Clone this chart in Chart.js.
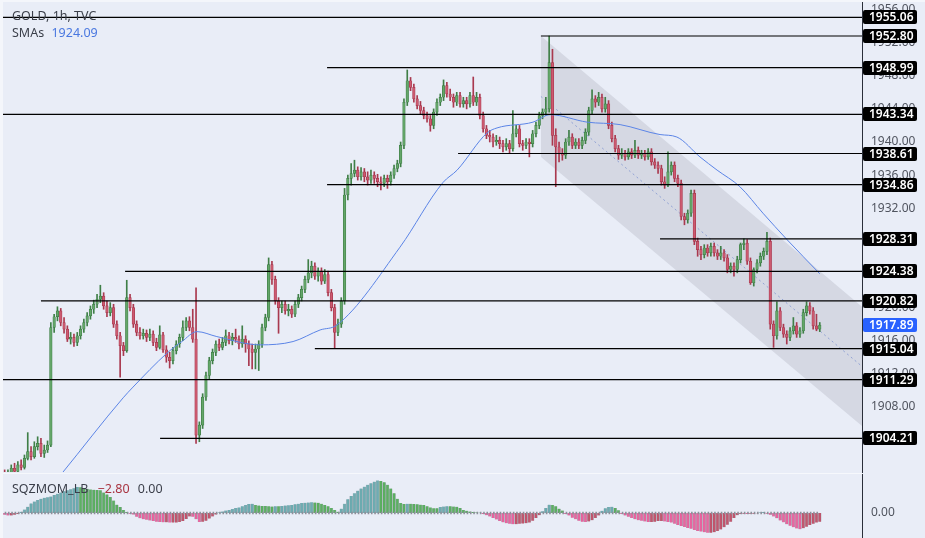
<!DOCTYPE html>
<html lang="en">
<head>
<meta charset="UTF-8">
<title>GOLD, 1h, TVC</title>
<script src="https://cdn.jsdelivr.net/npm/chart.js@4.4.1/dist/chart.umd.min.js"></script>
<style>
  body { margin: 0; width: 925px; height: 538px; background: #f4f6fb; position: relative; overflow: hidden; font-family: "Noto Sans", sans-serif; }
  #bg { position: absolute; left: 3px; top: 2px; right: 0; bottom: 0; background: #e9edf7; }
  #main { position: absolute; left: 0; top: 0; }
  #osc { position: absolute; left: 0; top: 473px; }
  #sep { position: absolute; left: 3px; top: 473px; width: 859px; height: 1px; background: #f6f8fc; }
  .legend { position: absolute; left: 12px; font-size: 12.5px; color: #3b3f4a; white-space: nowrap; line-height: 15px; }
</style>
</head>
<body>
<div id="bg"></div>
<canvas id="main" width="925" height="473"></canvas>
<div id="sep"></div>
<canvas id="osc" width="925" height="65"></canvas>

<div class="legend" style="top:8px">GOLD, 1h, TVC</div>
<div class="legend" style="top:25px">SMAs <span style="color:#4a78e0;margin-left:4px">1924.09</span></div>
<div class="legend" style="top:481px">SQZMOM_LB <span style="color:#a8323f;margin-left:6px">−2.80</span> <span style="margin-left:5px">0.00</span></div>

<script>
// ---- data (1h candles, oldest first) ----
const firstOpen = 1899.9;
const closes = [
  1899.6, 1900.0, 1900.6, 1900.2, 1901.0, 1900.7, 1901.8, 1902.6, 1902.0, 1903.2,
  1903.6, 1902.4, 1902.8, 1903.4, 1917.6, 1918.9, 1919.6, 1918.2, 1917.4, 1916.2,
  1916.4, 1915.8, 1916.6, 1917.4, 1918.2, 1919.0, 1919.8, 1920.4, 1921.0, 1921.4,
  1920.2, 1919.4, 1920.0, 1918.0, 1916.6, 1915.4, 1914.8, 1921.2, 1920.0, 1918.0,
  1917.0, 1916.6, 1916.9, 1916.4, 1916.8, 1915.8, 1915.2, 1916.7, 1914.9, 1914.0,
  1913.6, 1914.8, 1915.6, 1916.4, 1917.6, 1918.4, 1917.6, 1916.2, 1904.6, 1905.8,
  1909.2, 1911.8, 1913.6, 1914.6, 1915.6, 1915.2, 1915.8, 1916.6, 1916.0, 1916.4,
  1916.2, 1915.6, 1916.2, 1915.6, 1915.0, 1914.6, 1915.0, 1915.6, 1917.6, 1918.8,
  1925.2, 1923.4, 1920.8, 1920.0, 1920.4, 1919.6, 1919.8, 1919.2, 1920.4, 1921.2,
  1922.2, 1923.4, 1924.2, 1925.0, 1923.8, 1924.4, 1923.2, 1924.0, 1921.8, 1920.0,
  1917.0, 1918.0, 1920.8, 1933.6, 1935.6, 1936.2, 1936.6, 1935.8, 1936.4, 1935.8,
  1935.4, 1936.0, 1935.6, 1935.2, 1935.0, 1935.6, 1935.2, 1936.0, 1936.8, 1937.4,
  1939.6, 1944.8, 1947.4, 1946.6, 1945.2, 1944.4, 1943.8, 1943.2, 1942.8, 1942.0,
  1943.6, 1944.8, 1945.4, 1946.8, 1945.8, 1945.4, 1944.8, 1945.6, 1944.6, 1945.0,
  1944.6, 1945.6, 1944.8, 1945.4, 1943.2, 1941.6, 1940.8, 1940.6, 1940.0, 1940.2,
  1939.8, 1939.4, 1939.8, 1939.2, 1941.0, 1941.6, 1939.8, 1939.6, 1940.0, 1939.8,
  1941.0, 1942.0, 1943.2, 1943.6, 1944.0, 1949.6, 1940.8, 1939.4, 1938.6, 1938.4,
  1940.0, 1940.6, 1939.6, 1940.0, 1939.6, 1940.2, 1941.2, 1943.8, 1945.2, 1944.8,
  1945.4, 1944.0, 1944.6, 1942.0, 1940.4, 1939.2, 1938.4, 1938.6, 1938.2, 1938.8,
  1938.4, 1939.0, 1938.4, 1938.6, 1938.2, 1938.8, 1937.6, 1937.2, 1936.8, 1935.2,
  1934.8, 1936.4, 1937.2, 1935.6, 1935.0, 1931.0, 1930.6, 1931.4, 1933.8, 1928.0,
  1927.0, 1926.4, 1927.2, 1926.6, 1927.4, 1926.6, 1926.2, 1926.6, 1926.0, 1924.6,
  1925.0, 1924.6, 1925.8, 1927.6, 1927.8, 1925.6, 1923.0, 1924.6, 1925.4, 1926.2,
  1926.8, 1928.0, 1918.0, 1916.6, 1919.6, 1917.6, 1916.8, 1916.4, 1917.2, 1917.8,
  1916.8, 1917.2, 1919.4, 1920.2, 1919.6, 1917.8, 1917.4, 1917.89
];
const highs = [
  1900.4, 1900.4, 1901.0, 1901.2, 1901.4, 1901.6, 1902.2, 1904.9, 1903.2, 1903.8,
  1904.4, 1904.2, 1903.4, 1903.9, 1918.2, 1919.2, 1920.1, 1919.9, 1918.8, 1917.8,
  1917.0, 1916.8, 1917.0, 1917.8, 1918.6, 1919.4, 1920.2, 1920.9, 1921.6, 1922.7,
  1921.8, 1920.8, 1920.6, 1920.4, 1918.4, 1917.0, 1915.8, 1923.3, 1921.6, 1920.4,
  1918.4, 1917.6, 1917.4, 1917.3, 1917.4, 1917.2, 1916.3, 1917.8, 1917.0, 1915.4,
  1914.6, 1915.2, 1916.0, 1916.8, 1918.4, 1918.8, 1918.9, 1919.8, 1922.4, 1906.2,
  1909.6, 1912.2, 1914.0, 1915.0, 1916.0, 1916.2, 1916.4, 1917.3, 1917.0, 1916.9,
  1917.4, 1916.6, 1917.8, 1916.6, 1916.0, 1915.6, 1915.6, 1916.0, 1918.0, 1919.2,
  1926.0, 1925.6, 1923.8, 1921.2, 1920.8, 1920.8, 1920.4, 1920.2, 1920.8, 1921.6,
  1922.6, 1923.8, 1925.8, 1925.6, 1925.4, 1924.8, 1924.8, 1924.6, 1924.4, 1922.2,
  1920.4, 1918.6, 1921.2, 1934.4, 1936.0, 1937.4, 1937.8, 1937.0, 1936.9, 1936.8,
  1936.4, 1936.6, 1936.4, 1936.1, 1935.8, 1936.0, 1936.0, 1936.4, 1937.2, 1937.8,
  1940.0, 1945.2, 1948.7, 1947.8, 1947.0, 1945.6, 1944.9, 1944.2, 1943.6, 1943.2,
  1944.0, 1945.2, 1945.8, 1947.5, 1947.2, 1946.4, 1945.8, 1946.0, 1946.0, 1945.4,
  1945.4, 1946.0, 1947.85, 1946.0, 1945.8, 1943.6, 1942.0, 1941.4, 1941.0, 1940.8,
  1940.6, 1940.2, 1940.4, 1940.2, 1943.8, 1942.0, 1942.0, 1940.2, 1940.4, 1940.4,
  1941.4, 1942.4, 1943.6, 1944.0, 1945.4, 1952.8, 1951.2, 1941.6, 1940.0, 1939.2,
  1940.4, 1941.4, 1941.0, 1940.4, 1940.4, 1940.6, 1941.6, 1944.2, 1946.3, 1945.6,
  1946.0, 1945.8, 1945.4, 1945.0, 1942.4, 1940.8, 1939.6, 1939.2, 1939.0, 1939.2,
  1939.2, 1940.2, 1939.4, 1939.0, 1939.0, 1939.2, 1939.2, 1938.0, 1937.6, 1937.2,
  1935.8, 1938.8, 1937.6, 1937.6, 1936.0, 1935.4, 1931.4, 1931.8, 1934.2, 1934.2,
  1928.4, 1927.4, 1927.6, 1927.6, 1927.8, 1927.8, 1927.0, 1927.4, 1927.0, 1926.4,
  1925.4, 1925.4, 1926.2, 1927.8, 1928.3, 1928.2, 1926.0, 1924.8, 1925.8, 1926.6,
  1927.2, 1929.1, 1928.4, 1918.4, 1920.7, 1920.0, 1918.0, 1917.2, 1917.6, 1918.8,
  1918.2, 1917.6, 1919.8, 1920.7, 1920.6, 1920.0, 1919.2, 1918.2
];
const lows = [
  1899.2, 1899.3, 1899.8, 1899.9, 1900.0, 1900.4, 1900.5, 1901.6, 1901.6, 1901.8,
  1902.8, 1902.0, 1901.9, 1902.5, 1903.2, 1917.0, 1918.4, 1917.8, 1916.9, 1915.9,
  1915.6, 1915.3, 1915.4, 1916.2, 1917.0, 1917.8, 1918.6, 1919.3, 1920.0, 1920.6,
  1919.8, 1918.9, 1919.0, 1917.6, 1916.2, 1911.6, 1914.2, 1914.6, 1919.6, 1917.6,
  1916.6, 1916.2, 1916.2, 1915.9, 1916.0, 1915.4, 1914.8, 1915.0, 1914.6, 1913.4,
  1912.7, 1913.2, 1914.4, 1915.2, 1916.0, 1917.2, 1917.2, 1915.8, 1903.6, 1903.8,
  1905.4, 1908.8, 1911.4, 1913.2, 1914.2, 1914.8, 1914.9, 1915.4, 1915.6, 1915.5,
  1915.8, 1915.0, 1915.2, 1914.6, 1913.0, 1912.6, 1912.6, 1912.4, 1915.2, 1917.2,
  1918.4, 1922.8, 1920.4, 1916.9, 1919.4, 1919.2, 1919.0, 1918.8, 1918.9, 1920.0,
  1920.8, 1921.8, 1923.0, 1923.6, 1923.4, 1923.2, 1922.8, 1922.9, 1921.4, 1919.6,
  1915.1, 1916.6, 1917.6, 1920.4, 1933.0, 1934.8, 1935.8, 1935.4, 1935.4, 1935.2,
  1934.8, 1935.0, 1935.0, 1934.6, 1934.2, 1934.6, 1934.4, 1934.8, 1935.6, 1936.4,
  1937.0, 1939.2, 1944.4, 1946.2, 1944.8, 1944.0, 1943.4, 1942.8, 1942.4, 1941.3,
  1941.6, 1943.2, 1944.4, 1945.0, 1945.4, 1945.0, 1944.2, 1944.4, 1944.2, 1944.2,
  1944.0, 1944.2, 1944.4, 1944.4, 1942.8, 1941.2, 1940.4, 1940.0, 1939.4, 1939.6,
  1939.2, 1938.8, 1939.0, 1938.6, 1938.9, 1940.6, 1939.4, 1939.0, 1939.2, 1938.2,
  1939.4, 1940.6, 1941.6, 1942.8, 1943.2, 1943.6, 1939.6, 1934.6, 1937.6, 1937.8,
  1938.0, 1939.6, 1939.2, 1939.2, 1939.2, 1939.2, 1939.8, 1940.8, 1943.4, 1944.2,
  1944.4, 1943.6, 1943.6, 1941.6, 1940.0, 1938.8, 1937.9, 1938.0, 1937.8, 1937.9,
  1938.0, 1938.1, 1938.0, 1938.0, 1937.8, 1937.9, 1937.2, 1936.8, 1936.2, 1934.8,
  1934.4, 1934.6, 1936.0, 1935.2, 1934.6, 1930.6, 1930.0, 1930.2, 1931.0, 1927.6,
  1926.2, 1925.8, 1926.0, 1926.2, 1926.2, 1926.2, 1925.8, 1925.8, 1925.6, 1924.2,
  1924.2, 1923.8, 1924.2, 1925.4, 1927.0, 1925.2, 1922.8, 1922.6, 1924.2, 1925.0,
  1925.8, 1926.4, 1917.4, 1915.2, 1916.2, 1917.2, 1916.4, 1915.6, 1916.0, 1916.8,
  1916.4, 1916.4, 1916.9, 1919.0, 1919.2, 1917.4, 1917.2, 1917.1
];
// opens: each bar opens where the previous one closed
const opens = [firstOpen].concat(closes.slice(0, -1));

// SMA read at a few points along the blue curve (bar index, value)
const smaIdx  = [9.5, 17.4, 35.9, 38.9, 49.2, 53.7, 58.3, 64.3, 77.4, 87.4, 95.6, 100.7, 119.8, 132.8, 137.1,
                 146.2, 149.2, 160.1, 165.3, 176.5, 186.5, 198.6, 203.7, 210.7, 215.9, 222.8, 229.8, 237.1, 247];
const smaVals = [1896.2, 1900.0, 1909.1, 1910.4, 1914.5, 1915.9, 1917.1, 1916.5, 1915.5, 1915.9, 1917.3, 1917.9, 1927.3, 1935.1, 1936.6,
                 1941.1, 1941.7, 1942.4, 1943.3, 1942.4, 1942.1, 1940.9, 1940.6, 1938.2, 1936.6, 1934.6, 1931.4, 1928.2, 1924.09];

// horizontal levels and the bar index where each drawing starts
const levelPrices = [1955.06, 1952.80, 1948.99, 1943.34, 1938.61, 1934.86, 1928.31, 1924.38, 1920.82, 1915.04, 1911.29, 1904.21];
const levelStarts = [-0.5, 162.5, 97.7, -0.5, 137.4, 97.7, 198.6, 36.5, 11.0, 94.0, -0.5, 47.1];

// descending channel (start / end bar index)
const channelIdx   = [162.5, 259.8];
const channelUpper = [1952.8, 1920.1];
const channelMid   = [1945.5, 1912.9];
const channelLower = [1938.2, 1905.7];

// squeeze momentum histogram
const momentum = [
  -0.6, -0.8, -0.8, -0.6, -0.3, 0.4, 1.1, 2.0, 3.1, 3.7,
  4.2, 4.6, 4.9, 5.1, 5.3, 5.8, 6.2, 6.6, 7.0, 7.3,
  7.7, 8.0, 8.4, 8.3, 8.0, 7.8, 7.6, 7.5, 7.4, 7.3,
  6.6, 6.0, 5.2, 4.0, 2.7, 1.9, 1.0, 0.3, -0.2, -0.5,
  -1.2, -1.7, -2.0, -2.2, -2.4, -2.6, -2.8, -2.9, -3.0, -3.0,
  -3.1, -3.1, -3.1, -2.9, -2.6, -1.9, -1.1, -1.2, -2.0, -2.9,
  -2.8, -2.5, -1.8, -1.1, -0.5, 0.2, 0.5, 0.8, 1.0, 1.3,
  1.6, 1.8, 2.2, 2.6, 2.9, 3.0, 2.6, 2.4, 2.3, 2.3,
  2.2, 2.1, 2.2, 2.2, 2.3, 2.4, 2.5, 2.6, 2.8, 3.0,
  3.2, 3.3, 3.4, 3.5, 3.4, 3.3, 3.0, 2.6, 2.2, 1.6,
  1.0, 0.4, 1.4, 3.0, 4.4, 5.5, 6.4, 7.2, 7.9, 8.5,
  9.1, 9.6, 10.1, 10.5, 10.3, 9.9, 9.1, 7.9, 6.4, 4.6,
  3.2, 2.9, 3.0, 3.0, 2.9, 2.8, 2.7, 2.6, 2.2, 1.8,
  1.5, 1.5, 1.9, 2.1, 2.2, 2.2, 2.1, 2.0, 1.6, 1.0,
  0.7, 0.5, 0.3, 0.2, 0.1, -0.3, -0.7, -1.1, -1.6, -2.1,
  -2.6, -3.0, -3.3, -3.5, -3.6, -3.6, -3.5, -3.4, -3.3, -3.1,
  -2.5, -1.6, -0.7, 0.6, 1.6, 2.7, 2.6, 2.2, 1.4, 0.8,
  -0.3, -0.8, -1.5, -2.0, -2.5, -2.8, -2.9, -2.7, -2.3, -1.6,
  -0.8, 0.7, 1.5, 1.9, 2.0, 1.6, 0.9, -0.3, -0.8, -1.2,
  -1.6, -2.0, -2.3, -2.5, -2.7, -2.9, -2.9, -2.8, -2.6, -2.6,
  -2.7, -2.9, -3.1, -3.5, -3.9, -4.2, -4.5, -4.8, -5.1, -5.5,
  -5.8, -6.0, -6.2, -6.4, -6.4, -6.2, -5.8, -5.3, -4.6, -3.8,
  -2.8, -1.6, -0.7, -0.3, -0.2, -0.3, -0.2, -0.2, -0.1, 0.2,
  0.3, -0.2, -0.6, -1.1, -1.7, -2.4, -3.0, -3.6, -4.1, -4.6,
  -5.0, -5.2, -4.9, -4.4, -3.9, -3.5, -3.1, -2.8
];

const priceTicks = [1956, 1952, 1948, 1944, 1940, 1936, 1932, 1928, 1924, 1920, 1916, 1912, 1908, 1904];

// ---- view ----
const X_MIN = -0.5, X_MAX = 259.8;
const PRICE_MIN = 1900.145, PRICE_MAX = 1956.908;
const GREEN = '#64a669', GREEN_EDGE = '#3f7f47';
const RED = '#cc5a70', RED_EDGE = '#a9394f';
const FONT = '"Noto Sans", sans-serif';

const bars = closes.map((c, i) => i);
const isUp = bars.map(i => closes[i] >= opens[i]);
const bodyColors = isUp.map(u => u ? GREEN : RED);
const edgeColors = isUp.map(u => u ? GREEN_EDGE : RED_EDGE);

const levelSets = levelPrices.map((p, k) => ({
  type: 'line',
  data: [{ x: levelStarts[k], y: p }, { x: X_MAX, y: p }],
  borderColor: '#000000',
  borderWidth: 1.2,
  pointRadius: 0,
  order: 0
}));

// no half-label padding: chart area must reach the pane edges
const fitAxis = s => { s.width = 63; s.paddingTop = 0; s.paddingBottom = 0; };

const tagPlugin = {
  id: 'priceTags',
  afterDraw(chart) {
    const ctx = chart.ctx;
    const y = chart.scales.y;
    const drawTag = (price, bg) => {
      const py = Math.round(y.getPixelForValue(price));
      ctx.fillStyle = bg;
      ctx.beginPath();
      ctx.roundRect(863, py - 7, 54, 14, 2);
      ctx.fill();
      ctx.fillStyle = '#ffffff';
      ctx.fillText(price.toFixed(2), 869, py + 0.5);
    };
    ctx.save();
    ctx.font = '600 12px ' + FONT;
    ctx.textBaseline = 'middle';
    levelPrices.forEach(p => drawTag(p, '#000000'));
    drawTag(closes[closes.length - 1], '#2962ff');
    ctx.restore();
  }
};

new Chart(document.getElementById('main'), {
  type: 'bar',
  data: {
    datasets: [
      ...levelSets,
      {
        type: 'line',
        data: smaIdx.map((x, k) => ({ x: x, y: smaVals[k] })),
        borderColor: '#5b84e6',
        borderWidth: 1,
        pointRadius: 0,
        cubicInterpolationMode: 'monotone',
        order: 1
      },
      {
        data: bars.map(i => ({ x: i, y: [opens[i], closes[i]] })),
        backgroundColor: bodyColors,
        borderColor: edgeColors,
        borderWidth: 0.7,
        borderSkipped: false,
        barThickness: 2.6,
        minBarLength: 1,
        grouped: false,
        order: 2
      },
      {
        data: bars.map(i => ({ x: i, y: [lows[i], highs[i]] })),
        backgroundColor: edgeColors,
        barThickness: 1,
        grouped: false,
        order: 3
      },
      {
        type: 'line',
        data: channelIdx.map((x, k) => ({ x: x, y: channelMid[k] })),
        borderColor: 'rgba(100,125,200,0.6)',
        borderWidth: 1,
        borderDash: [2, 3],
        pointRadius: 0,
        order: 9
      },
      {
        type: 'line',
        data: channelIdx.map((x, k) => ({ x: x, y: channelUpper[k] })),
        borderColor: 'transparent',
        backgroundColor: 'rgba(120,123,140,0.18)',
        fill: '+1',
        pointRadius: 0,
        order: 10
      },
      {
        type: 'line',
        data: channelIdx.map((x, k) => ({ x: x, y: channelLower[k] })),
        borderColor: 'transparent',
        pointRadius: 0,
        order: 11
      }
    ]
  },
  options: {
    responsive: false,
    animation: false,
    layout: { padding: { left: 3, top: 2, right: 0, bottom: 1 } },
    plugins: { legend: { display: false }, tooltip: { enabled: false } },
    scales: {
      x: { type: 'linear', min: X_MIN, max: X_MAX, offset: false, display: false },
      y: {
        position: 'right',
        min: PRICE_MIN,
        max: PRICE_MAX,
        afterFit: fitAxis,
        afterBuildTicks: s => { s.ticks = priceTicks.map(v => ({ value: v })); },
        grid: { display: false, drawTicks: false },
        border: { color: '#2a2e39', width: 1 },
        ticks: {
          padding: 9,
          color: '#50545f',
          font: { family: FONT, size: 12 },
          callback: v => Number(v).toFixed(2)
        }
      }
    }
  },
  plugins: [tagPlugin]
});

// ---- oscillator pane ----
const TEAL = 'rgba(96,165,170,0.9)', GREEN_H = 'rgba(78,168,82,0.9)';
const PINK = 'rgba(232,86,150,0.9)', MAROON = 'rgba(190,70,95,0.9)';
const momColors = momentum.map((v, i) => {
  const prev = i > 0 ? momentum[i - 1] : 0;
  if (v >= 0) return v > prev ? TEAL : GREEN_H;
  return v < prev ? PINK : MAROON;
});

new Chart(document.getElementById('osc'), {
  type: 'bar',
  data: {
    datasets: [
      {
        type: 'line',
        data: [{ x: 0, y: 0 }, { x: momentum.length - 1, y: 0 }],
        borderColor: '#8c8f99',
        borderWidth: 2.5,
        borderDash: [1.6, 1.7],
        pointRadius: 0,
        order: 0
      },
      {
        data: momentum.map((v, i) => ({ x: i, y: v })),
        backgroundColor: momColors,
        borderColor: 'rgba(70,80,90,0.35)',
        borderWidth: { left: 0.6, right: 0.6, top: 0, bottom: 0 },
        borderSkipped: false,
        barThickness: 3,
        order: 1
      }
    ]
  },
  options: {
    responsive: false,
    animation: false,
    layout: { padding: { left: 3, top: 1, right: 0, bottom: 0 } },
    plugins: { legend: { display: false }, tooltip: { enabled: false } },
    scales: {
      x: { type: 'linear', min: X_MIN, max: X_MAX, offset: false, display: false },
      y: {
        position: 'right',
        min: -8.06,
        max: 12.58,
        afterFit: fitAxis,
        afterBuildTicks: s => { s.ticks = [{ value: 0 }]; },
        grid: { display: false, drawTicks: false },
        border: { color: '#2a2e39', width: 1 },
        ticks: {
          padding: 9,
          color: '#50545f',
          font: { family: FONT, size: 12 },
          callback: v => Number(v).toFixed(2)
        }
      }
    }
  }
});
</script>
</body>
</html>
